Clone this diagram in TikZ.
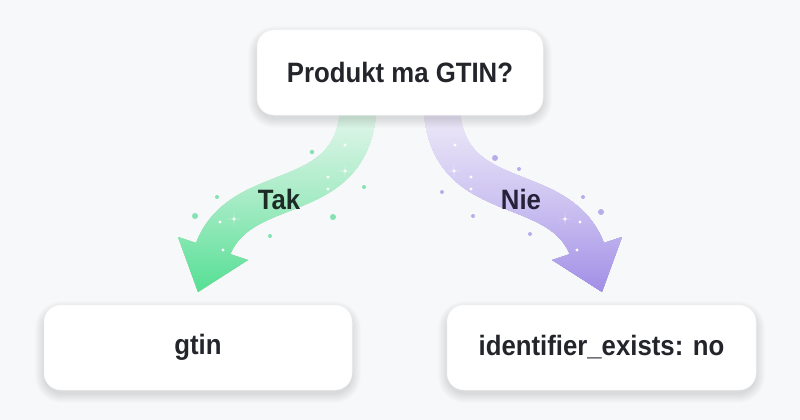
\documentclass[tikz,border=0pt]{standalone}
\usepackage{fontspec}
\newfontfamily\lblfont{Liberation Sans}[FakeStretch=0.92]
\definecolor{bg}{HTML}{F6F8FA}
\definecolor{txt}{HTML}{23252B}
\definecolor{takc}{HTML}{1C2B26}
\definecolor{niec}{HTML}{25223A}
\definecolor{gTop}{HTML}{E4F6EC}
\definecolor{gMid}{HTML}{A4EBC4}
\definecolor{gBot}{HTML}{55DF94}
\definecolor{pTop}{HTML}{EEEBF8}
\definecolor{pMid}{HTML}{CDC3F1}
\definecolor{pBot}{HTML}{A18FE6}
\definecolor{gDot}{HTML}{86E2B3}
\definecolor{pDot}{HTML}{B9ACEB}
\newcommand\softshadow[4]{%
  \foreach \i in {1,...,10}{%
    \fill[black, opacity=0.011, rounded corners=17pt+\i pt]
      ({#1-#3/2-\i+1},{#2-#4/2-\i+6}) rectangle ({#1+#3/2+\i-1},{#2+#4/2+\i+3});
  }}
\tikzset{
  box/.style={fill=white, draw=black!3, line width=0.5pt, rounded corners=17pt,
    minimum height=85pt, inner sep=0pt,
    font=\lblfont\bfseries\fontsize{28}{32}\selectfont, text=txt},
  lbl/.style={font=\lblfont\bfseries\fontsize{28}{32}\selectfont, inner sep=0pt},
  spark/.pic={\fill[white, opacity=0.9] (0,-6) .. controls (0,0) .. (6,0) .. controls (0,0) .. (0,6) .. controls (0,0) .. (-6,0) .. controls (0,0) .. (0,-6) -- cycle;},
  shaft/.style={line width=36pt, line cap=butt, draw=black}
}
\begin{document}
\begin{tikzpicture}[x=1pt,y=-1pt]
\useasboundingbox (0,0) rectangle (800,420);
\fill[bg] (0,0) rectangle (800,420);

% connector anchor coordinates
\coordinate (gs) at (358.5,100);
\coordinate (gc1) at (358.5,215);
\coordinate (gc2) at (237.8,172.5);
\coordinate (ge) at (211.5,253.3);
\coordinate (gh1) at (178,237);
\coordinate (gh2) at (248,260);
\coordinate (gtip) at (198,292);
\coordinate (ps) at (441.5,100);
\coordinate (pc1) at (441.5,215);
\coordinate (pc2) at (562.2,172.5);
\coordinate (pe) at (588.5,253.3);
\coordinate (ph1) at (622,237);
\coordinate (ph2) at (552,260);
\coordinate (ptip) at (602,292);

% arrows (black mask, then coloured by lighten blend)
\draw[shaft] (gs) .. controls (gc1) and (gc2) .. (ge);
\fill[black] (gh1) -- (gtip) -- (gh2) -- cycle;
\draw[shaft] (ps) .. controls (pc1) and (pc2) .. (pe);
\fill[black] (ph1) -- (ptip) -- (ph2) -- cycle;
\begin{scope}[blend mode=lighten]
  \shade[top color=gTop, bottom color=gBot, middle color=gMid] (165,110) rectangle (390,292);
  \shade[top color=pTop, bottom color=pBot, middle color=pMid] (410,110) rectangle (635,292);
\end{scope}

% dots and sparkles (green side)
\fill[gDot] (312,152) circle (2.2);
\fill[gDot] (364,187) circle (2);
\fill[gDot] (333,217) circle (3);
\fill[gDot] (270,236) circle (2);
\fill[gDot] (195,216) circle (3);
\fill[gDot] (217,197) circle (2);
\fill[white] (345,145) circle (1.6);
\fill[white] (328,177) circle (1.6);
\fill[white] (328,189) circle (1.6);
\fill[white] (220,222) circle (1.6);
\fill[white] (223,250) circle (1.6);
\pic at (345,171) {spark};
\pic at (234,219) {spark};

% dots and sparkles (purple side)
\fill[pDot] (495,158) circle (3);
\fill[pDot] (519,169) circle (2);
\fill[pDot] (442,192) circle (2);
\fill[pDot] (473,216) circle (2);
\fill[pDot] (530,234) circle (2);
\fill[pDot] (583,197) circle (2);
\fill[pDot] (601,212) circle (3);
\fill[white] (455,145) circle (1.6);
\fill[white] (471,177) circle (1.6);
\fill[white] (471,189) circle (1.6);
\fill[white] (580,222) circle (1.6);
\fill[white] (577,250) circle (1.6);
\pic at (454,171) {spark};
\pic at (565,219) {spark};

% labels on arrows
\node[lbl, text=takc] (tak) at (279,199) {Tak};
\node[lbl, text=niec] (nie) at (521,199) {Nie};

% soft shadows
\softshadow{400}{72.5}{286}{85}
\softshadow{198}{347.5}{308}{85}
\softshadow{601.5}{347.5}{309}{85}

% boxes
\node[box, minimum width=286pt] (top) at (400,72.5) {Produkt ma GTIN?};
\node[box, minimum width=308pt] (gtin) at (198,347.5) {gtin};
\node[box, minimum width=309pt] (ide) at (601.5,347.5) {identifier\_exists: no};
\end{tikzpicture}
\end{document}
